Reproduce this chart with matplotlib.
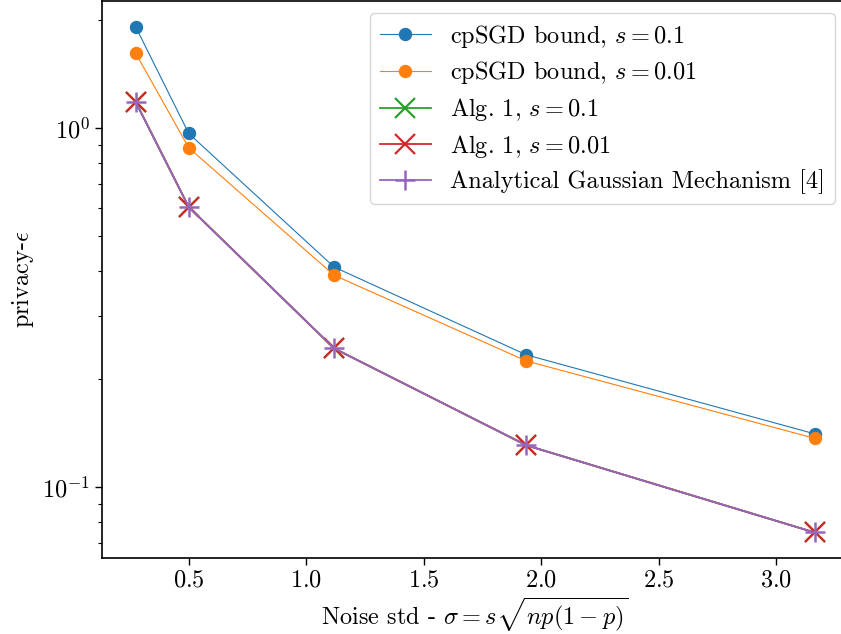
import numpy as np
import matplotlib
matplotlib.use("Agg")
import matplotlib.pyplot as plt

plt.rcParams['font.family'] = 'serif'
plt.rcParams['font.serif'] = ['cmr10', 'DejaVu Serif']
plt.rcParams['mathtext.fontset'] = 'cm'
plt.rcParams['axes.formatter.use_mathtext'] = True
plt.rcParams['axes.unicode_minus'] = False

# noise std on the x axis
sigma = [0.274, 0.5, 1.118, 1.936, 3.162]

# privacy epsilon
cpsgd_s01 = [1.92, 0.968, 0.411, 0.234, 0.141]
cpsgd_s001 = [1.62, 0.883, 0.390, 0.225, 0.137]
alg1_s01 = [1.186, 0.604, 0.244, 0.131, 0.0749]
alg1_s001 = [1.186, 0.604, 0.244, 0.131, 0.0749]
agm = [1.186, 0.604, 0.244, 0.131, 0.0749]

labels = [r'cpSGD bound, $s=0.1$', r'cpSGD bound, $s=0.01$',
          r'Alg. 1, $s=0.1$', r'Alg. 1, $s=0.01$',
          'Analytical Gaussian Mechanism [4]']

fs = 17.5
fig = plt.figure(figsize=(8.41, 6.34), dpi=100)
ax = fig.add_axes([0.1209, 0.1203, 0.888, 0.8775])

ax.plot(sigma, cpsgd_s01, '-o', color='C0', lw=0.8, ms=8.6, label=labels[0])
ax.plot(sigma, cpsgd_s001, '-o', color='C1', lw=0.8, ms=8.6, label=labels[1])
ax.plot(sigma, alg1_s01, '-x', color='C2', lw=1.3, ms=14.4, mew=1.6, label=labels[2])
ax.plot(sigma, alg1_s001, '-x', color='C3', lw=1.3, ms=14.4, mew=1.6, label=labels[3])
ax.plot(sigma, agm, '-+', color='C4', lw=1.3, ms=14.4, mew=1.8, label=labels[4])

ax.set_yscale('log')
ax.set_xlabel(r'Noise std - $\sigma = s\sqrt{np(1-p)}$', fontsize=fs, labelpad=3)
ax.set_ylabel(r'privacy-$\epsilon$', fontsize=fs)
ax.tick_params(labelsize=fs, which='major', length=5, width=1.0)
ax.tick_params(which='minor', length=3, width=0.8)
for sp in ax.spines.values():
    sp.set_linewidth(1.2)

ax.legend(loc='upper right', bbox_to_anchor=(835 / 841, 1 - 13 / 634),
          bbox_transform=fig.transFigure, borderaxespad=0, fontsize=fs,
          handlelength=2.1, labelspacing=0.4)

fig.savefig('out.png', dpi=100)
